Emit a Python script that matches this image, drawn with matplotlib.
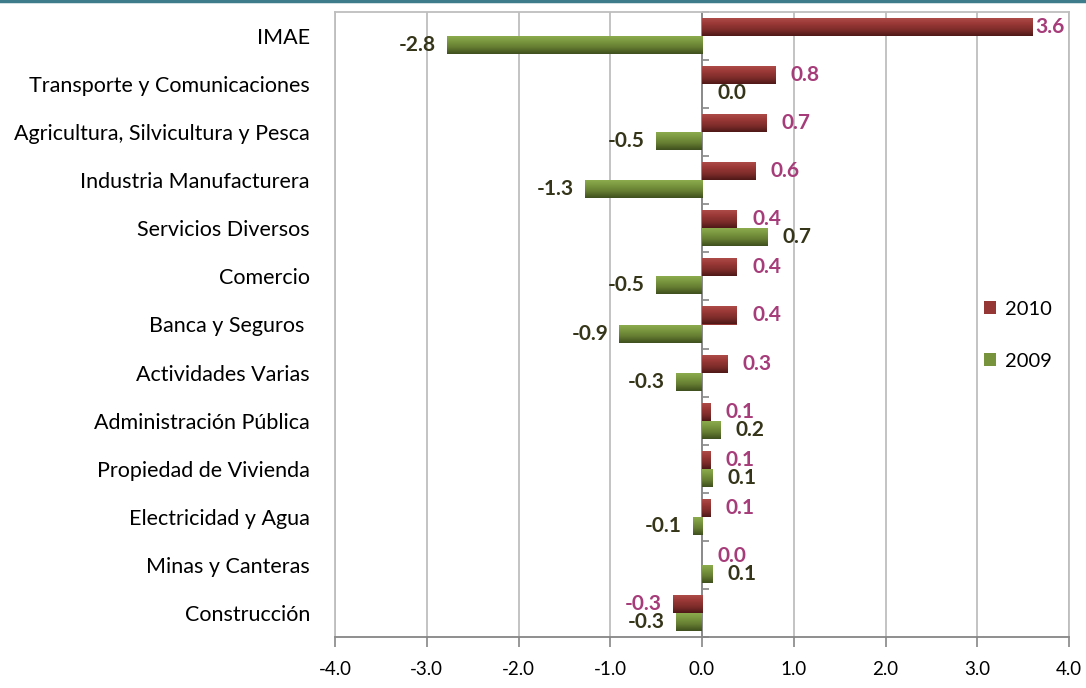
import numpy as np
import matplotlib
matplotlib.use("Agg")
import matplotlib.pyplot as plt
from matplotlib.lines import Line2D
from matplotlib.patches import Patch
from matplotlib.colors import LinearSegmentedColormap

categories = ["IMAE", "Transporte y Comunicaciones", "Agricultura, Silvicultura y Pesca",
              "Industria Manufacturera", "Servicios Diversos", "Comercio", "Banca y Seguros ",
              "Actividades Varias", "Administración Pública", "Propiedad de Vivienda",
              "Electricidad y Agua", "Minas y Canteras", "Construcción"]
values_2010 = [3.6, 0.8, 0.7, 0.58, 0.38, 0.38, 0.38, 0.28, 0.09, 0.09, 0.09, 0.0, -0.32]
values_2009 = [-2.78, 0.0, -0.5, -1.28, 0.71, -0.5, -0.9, -0.28, 0.2, 0.11, -0.1, 0.11, -0.28]
series_names = ["2010", "2009"]
xticks = [-4.0, -3.0, -2.0, -1.0, 0.0, 1.0, 2.0, 3.0, 4.0]

plt.rcParams['font.family'] = ['Lato', 'DejaVu Sans']

W, H = 1086, 688
fig = plt.figure(figsize=(W / 100, H / 100), dpi=100)
ax = fig.add_axes([335 / W, 1 - 637 / H, (1069 - 335) / W, (637 - 12) / H])

# teal rule at top of figure
fig.add_artist(Line2D([0, 1], [1 - 1 / H, 1 - 1 / H], transform=fig.transFigure,
                      color="#3E7C8C", lw=2.5))

y = np.arange(len(categories))
h = 0.375
col10 = "#953735"
col09 = "#77933C"
lab10 = "#A63C79"
lab09 = "#35351A"

bars10 = ax.barh(y - h / 2, values_2010, height=h, color=col10, label=series_names[0], zorder=3)
bars09 = ax.barh(y + h / 2, values_2009, height=h, color=col09, label=series_names[1], zorder=3)

cm10 = LinearSegmentedColormap.from_list("c10", ["#B04E4B", "#9A3937", "#7E2C2A", "#4E1918"])
cm09 = LinearSegmentedColormap.from_list("c09", ["#8FAE50", "#7A973F", "#627A30", "#3F4F1E"])
grad = np.linspace(0, 1, 64).reshape(-1, 1)
for bars, cm in ((bars10, cm10), (bars09, cm09)):
    for p in bars:
        x0, w = p.get_x(), p.get_width()
        if abs(w) < 1e-9:
            continue
        y0, hh = p.get_y(), p.get_height()
        im = ax.imshow(grad, cmap=cm, aspect="auto", interpolation="bilinear",
                       extent=[min(x0, x0 + w), max(x0, x0 + w), y0 + hh, y0],
                       origin="upper", zorder=4)
        im.set_clip_path(p)

for bars, vals, c in ((bars10, values_2010, lab10), (bars09, values_2009, lab09)):
    for p, v in zip(bars, vals):
        end = p.get_x() + p.get_width()
        yc = p.get_y() + p.get_height() / 2
        if v >= 0:
            off = 2 if v > 3 else 11
            ax.annotate(f"{v:.1f}", (end, yc), xytext=(off, 0), textcoords="offset points",
                        ha="left", va="center", color=c, fontsize=15, fontweight="bold", zorder=6)
        else:
            ax.annotate(f"{v:.1f}", (end, yc), xytext=(-8, 0), textcoords="offset points",
                        ha="right", va="center", color=c, fontsize=15, fontweight="bold", zorder=6)

ax.set_xlim(-4, 4)
ax.set_ylim(len(categories) - 0.5, -0.5)
ax.set_xticks(xticks)
ax.set_xticklabels([f"{t:.1f}" for t in xticks], fontsize=13.5)
ax.set_yticks(y)
ax.set_yticklabels(categories, fontsize=15.5)
ax.tick_params(axis="y", length=0, pad=18)
ax.tick_params(axis="x", length=7, width=1.2, color="#868686", pad=10, direction="out")
ax.grid(axis="x", color="#BEBEBE", lw=1.3, zorder=0)
for s in ("left", "top", "right"):
    ax.spines[s].set_color("#BEBEBE")
    ax.spines[s].set_linewidth(1.3)
ax.spines["bottom"].set_color("#868686")
ax.spines["bottom"].set_linewidth(1.3)

# vertical axis at zero with ticks between categories
ax.axvline(0, color="#868686", lw=1.3, zorder=2.5)
sec = ax.secondary_yaxis(0.5)
sec.set_yticks(np.arange(len(categories) + 1) - 0.5)
sec.set_yticklabels([])
sec.tick_params(axis="y", length=5, width=1.2, color="#868686", direction="out")
for s in sec.spines.values():
    s.set_visible(False)

handles = [Patch(facecolor=col10, edgecolor="none"), Patch(facecolor=col09, edgecolor="none")]
ax.legend(handles, series_names, loc="center left", bbox_to_anchor=(0.86, 0.483),
          frameon=False, fontsize=14.5, handlelength=0.6, handleheight=0.6,
          handletextpad=0.4, labelspacing=1.75)

fig.savefig("out.png", dpi=100)
